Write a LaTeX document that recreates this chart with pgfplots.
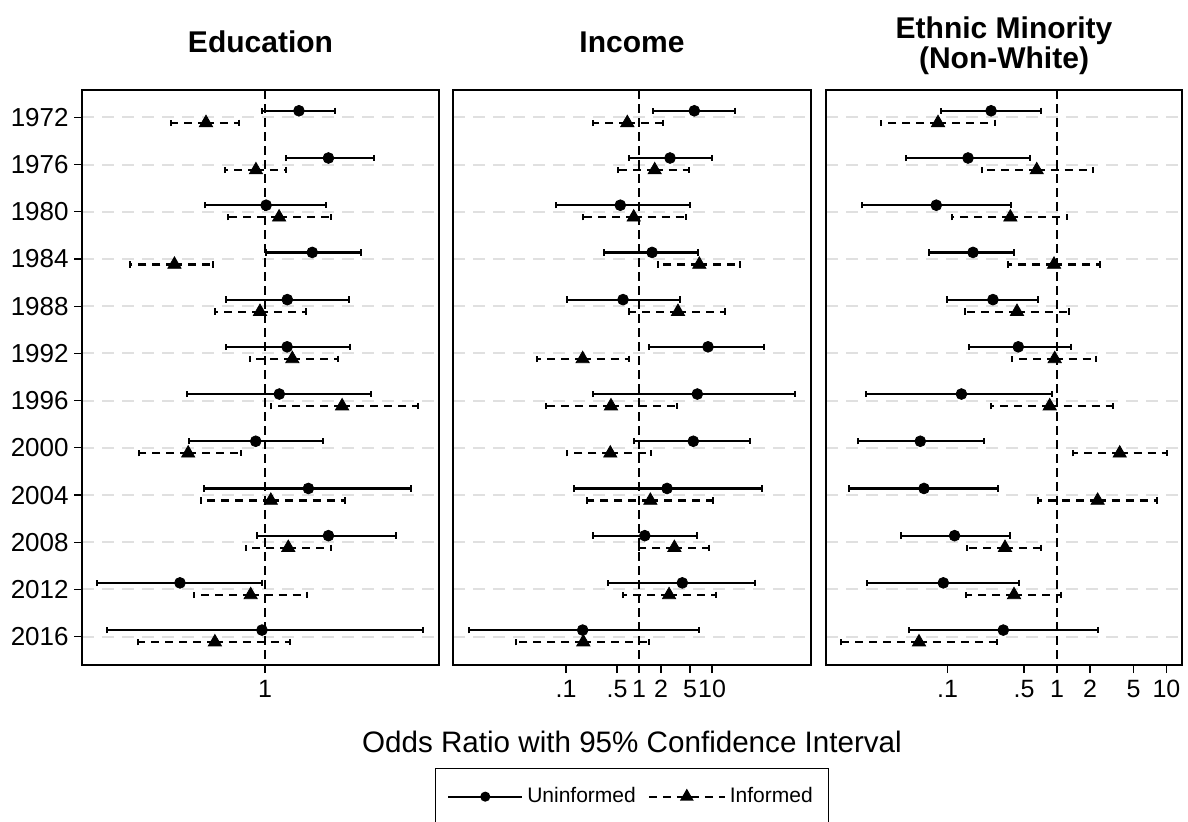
\documentclass[border=0pt]{standalone}
\usepackage{fontspec}
\setmainfont{Liberation Sans}
\usepackage{pgfplots}
\usepackage{pgfplotstable}
\pgfplotsset{compat=1.18}

% columns: y position, estimate, lower CI, upper CI
\pgfplotstableread{
y est lo hi
0.86 1.169 0.988 1.382
1.86 1.339 1.100 1.654
2.86 1.005 0.760 1.324
3.86 1.243 1.003 1.556
4.86 1.108 0.834 1.474
5.86 1.107 0.834 1.479
6.86 1.068 0.699 1.627
7.86 0.958 0.704 1.304
8.86 1.221 0.754 1.959
9.86 1.339 0.964 1.830
10.86 0.676 0.461 0.985
11.86 0.986 0.484 2.070
}\eduU
\pgfplotstableread{
y est lo hi
1.115 0.762 0.648 0.888
2.115 0.959 0.832 1.102
3.115 1.067 0.845 1.355
4.115 0.659 0.537 0.788
5.115 0.977 0.794 1.206
6.115 1.134 0.935 1.402
7.115 1.426 1.029 2.020
8.115 0.702 0.560 0.894
9.115 1.027 0.746 1.447
10.115 1.113 0.918 1.353
11.115 0.936 0.722 1.212
12.115 0.794 0.558 1.122
}\eduI
\pgfplotstableread{
y est lo hi
0.86 5.72 1.57 20.9
1.86 2.66 0.736 10.1
2.86 0.554 0.0729 5.04
3.86 1.51 0.332 6.37
4.86 0.604 0.104 3.64
5.86 8.81 1.38 51.6
6.86 6.29 0.232 135.8
7.86 5.54 0.862 32.8
8.86 2.42 0.130 48.9
9.86 1.20 0.232 6.23
10.86 3.92 0.376 39.2
11.86 0.169 0.00473 6.64
}\incU
\pgfplotstableread{
y est lo hi
1.115 0.691 0.237 2.15
2.115 1.64 0.521 4.89
3.115 0.846 0.1726 4.36
4.115 6.70 1.84 24.2
5.115 3.42 0.736 15.1
6.115 0.169 0.0401 0.730
7.115 0.413 0.0527 3.32
8.115 0.404 0.103 1.45
9.115 1.43 0.196 10.4
10.115 3.05 1.01 9.18
11.115 2.58 0.598 11.2
12.115 0.1726 0.0207 1.37
}\incI
\pgfplotstableread{
y est lo hi
0.86 0.250 0.0878 0.719
1.86 0.154 0.0418 0.570
2.86 0.0790 0.0166 0.380
3.86 0.171 0.0678 0.407
4.86 0.260 0.0996 0.666
5.86 0.443 0.157 1.351
6.86 0.134 0.0179 0.906
7.86 0.0564 0.0151 0.2155
8.86 0.0610 0.0127 0.291
9.86 0.116 0.0374 0.375
10.86 0.0916 0.0185 0.450
11.86 0.3233 0.0442 2.35
}\ethU
\pgfplotstableread{
y est lo hi
1.115 0.0819 0.0247 0.273
2.115 0.653 0.208 2.12
3.115 0.375 0.109 1.234
4.115 0.939 0.359 2.47
5.115 0.431 0.1454 1.279
6.115 0.953 0.391 2.29
7.115 0.858 0.248 3.23
8.115 3.74 1.41 10.1
9.115 2.35 0.666 8.14
10.115 0.335 0.1517 0.714
11.115 0.405 0.1485 1.095
12.115 0.0549 0.01065 0.285
}\ethI

\pgfplotsset{
  every axis/.append style={
    scale only axis, height=287.5pt,
    y dir=reverse, ymin=0.42, ymax=12.6,
    ytick={1,2,3,4,5,6,7,8,9,10,11,12}, ymajorgrids,
    major grid style={line width=1pt, color=black!12, dash pattern=on 6pt off 4pt},
    axis line style={line width=0.6pt},
    tick align=outside, major tick length=4pt,
    tick style={black, line width=0.6pt},
    xtick pos=bottom, ytick pos=left,
    xticklabel style={font=\fontsize{12.5}{14}\selectfont, inner sep=1pt, yshift=-2.5pt},
    yticklabel style={font=\fontsize{13}{14}\selectfont, inner sep=1pt, xshift=-1.5pt},
    title style={font=\fontsize{15}{15}\selectfont\bfseries, at={(0.5,1)}, anchor=base, yshift=12.8pt, inner sep=0pt},
  },
  unif/.style={only marks, mark=*, mark size=2.7pt, black,
    error bars/x dir=both, error bars/x explicit,
    error bars/error bar style={line width=1.1pt, solid},
    error bars/error mark=|, error bars/error mark options={mark size=1.6pt, line width=1pt, solid}},
  inf/.style={only marks, mark=triangle*, mark size=3.8pt, black,
    error bars/x dir=both, error bars/x explicit,
    error bars/error bar style={line width=1.1pt, dash pattern=on 4pt off 3pt},
    error bars/error mark=|, error bars/error mark options={mark size=1.6pt, line width=1pt, solid}},
  refline/.style={black, line width=1.2pt, dash pattern=on 4.5pt off 2.5pt, forget plot},
}

\begin{document}
\begin{tikzpicture}
\path[use as bounding box] (0pt,0pt) rectangle (594pt,-410.5pt);

% Education
\begin{semilogxaxis}[at={(41pt,-332.5pt)}, anchor=south west, width=178.5pt,
  xmin=0.4305, xmax=2.228, xtick={1}, xticklabels={1}, minor xtick={},
  yticklabels={1972,1976,1980,1984,1988,1992,1996,2000,2004,2008,2012,2016},
  title={Education}]
\addplot[refline] coordinates {(1,0.42) (1,12.6)};
\addplot[unif] table[x=est, y=y, x error plus expr=\thisrow{hi}-\thisrow{est}, x error minus expr=\thisrow{est}-\thisrow{lo}] {\eduU};
\addplot[inf] table[x=est, y=y, x error plus expr=\thisrow{hi}-\thisrow{est}, x error minus expr=\thisrow{est}-\thisrow{lo}] {\eduI};
\end{semilogxaxis}

% Income
\begin{semilogxaxis}[at={(226.5pt,-332.5pt)}, anchor=south west, width=179pt,
  xmin=0.00283, xmax=227, xtick={0.1,0.5,1,2,5,10}, xticklabels={.1,.5,1,2,5,10}, minor xtick={},
  yticklabels={}, ytick style={draw=none},
  title={Income},
  xlabel={Odds Ratio with 95\% Confidence Interval},
  xlabel style={font=\fontsize{14.8}{16}\selectfont, at={(axis description cs:0.5,0)}, anchor=base, yshift=-43.8pt, inner sep=0pt},
  legend columns=2,
  legend style={at={(axis description cs:0.5,-0.179)}, anchor=north, draw=black, line width=0.6pt,
    font=\fontsize{10.5}{12}\selectfont, inner xsep=6pt, inner ysep=7.5pt,
    /tikz/every even column/.append style={column sep=4pt}},
  legend cell align=left]
\addlegendimage{black, line width=1pt, solid, mark=*, mark size=2pt,
  legend image code/.code={\draw[mark repeat=2, mark phase=2] plot coordinates {(0pt,0pt) (18.5pt,0pt) (37pt,0pt)};}}
\addlegendentry{Uninformed}
\addlegendimage{black, line width=1pt, dash pattern=on 4pt off 3pt, mark=triangle*, mark size=3pt, mark options={solid},
  legend image code/.code={\draw[mark repeat=2, mark phase=2] plot coordinates {(0pt,0pt) (19pt,0pt) (38pt,0pt)};}}
\addlegendentry{Informed}
\addplot[refline] coordinates {(1,0.42) (1,12.6)};
\addplot[unif, forget plot] table[x=est, y=y, x error plus expr=\thisrow{hi}-\thisrow{est}, x error minus expr=\thisrow{est}-\thisrow{lo}] {\incU};
\addplot[inf, forget plot] table[x=est, y=y, x error plus expr=\thisrow{hi}-\thisrow{est}, x error minus expr=\thisrow{est}-\thisrow{lo}] {\incI};
\end{semilogxaxis}

% Ethnic minority
\begin{semilogxaxis}[at={(413pt,-332.5pt)}, anchor=south west, width=178pt,
  xmin=0.00777, xmax=13.86, xtick={0.1,0.5,1,2,5,10}, xticklabels={.1,.5,1,2,5,10}, minor xtick={},
  yticklabels={}, ytick style={draw=none},
  title={Ethnic Minority\\(Non-White)},
  title style={align=center, anchor=south, yshift=-11.2pt}]
\addplot[refline] coordinates {(1,0.42) (1,12.6)};
\addplot[unif] table[x=est, y=y, x error plus expr=\thisrow{hi}-\thisrow{est}, x error minus expr=\thisrow{est}-\thisrow{lo}] {\ethU};
\addplot[inf] table[x=est, y=y, x error plus expr=\thisrow{hi}-\thisrow{est}, x error minus expr=\thisrow{est}-\thisrow{lo}] {\ethI};
\end{semilogxaxis}
\end{tikzpicture}
\end{document}
